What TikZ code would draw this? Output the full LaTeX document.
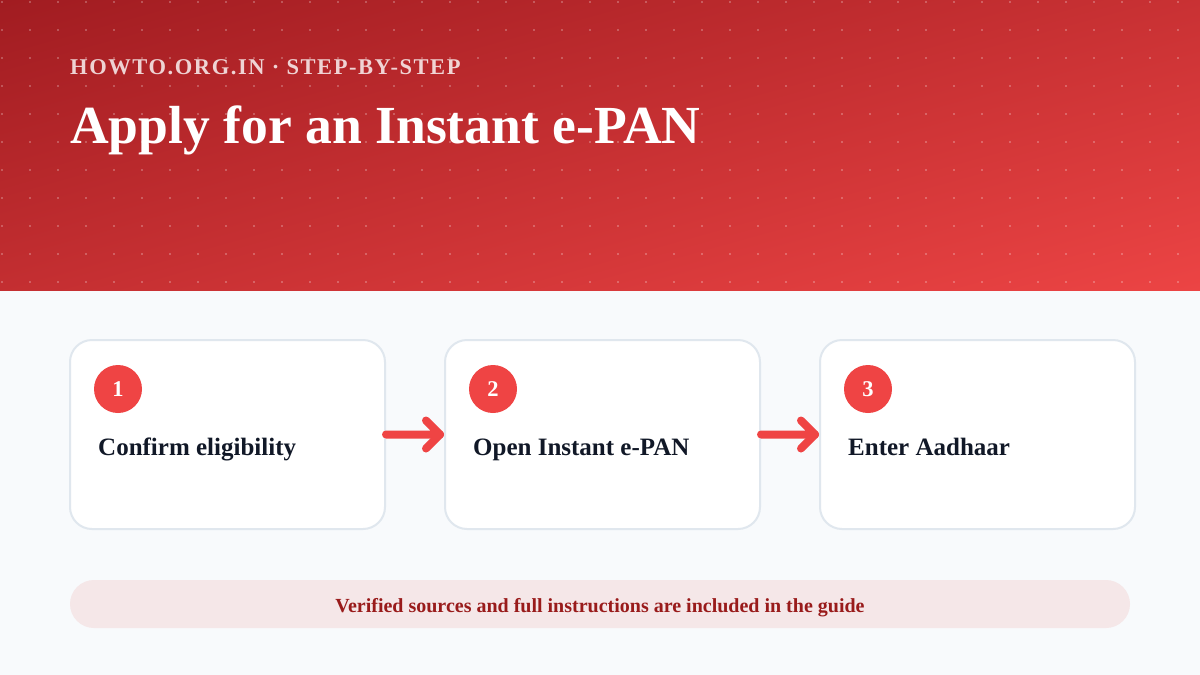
\documentclass[tikz,border=0pt]{standalone}
\usepackage{fontspec}
\setmainfont{Liberation Serif}
\newfontfamily\kickerfont[LetterSpace=7]{Liberation Serif}
\usepackage{tikz}
\usetikzlibrary{positioning, shadings}
\definecolor{hdrA}{HTML}{A11C21}
\definecolor{hdrB}{HTML}{EC4444}
\definecolor{page}{HTML}{F8FAFC}
\definecolor{cardline}{HTML}{E0E7EE}
\definecolor{accent}{HTML}{EF4444}
\definecolor{ink}{HTML}{111827}
\definecolor{pill}{HTML}{F5E7E8}
\definecolor{pilltext}{HTML}{991B1B}
\tikzset
{
    card/.style={draw=cardline, line width=2pt, fill=white, rounded corners=22pt, minimum width=315pt, minimum height=189pt, inner sep=0pt, outer sep=0pt}, % one step box
    badge/.style={circle, fill=accent, minimum size=48pt, inner sep=0pt, text=white, font=\fontsize{22.5}{26}\selectfont\bfseries}, % step number
    steptext/.style={anchor=base west, inner sep=0pt, text=ink, font=\fontsize{25}{30}\selectfont\bfseries},
    flow/.style={draw=accent, line width=8pt, line cap=round, line join=round}, % arrow between boxes
    node distance=60pt,
}

\begin{document}
\begin{tikzpicture}[x=1pt, y=-1pt]
    \useasboundingbox (0,0) rectangle (1200,675);
    \fill[page] (0,0) rectangle (1200,675);

    % Header
    \shade[upper left=hdrA, upper right=hdrB!53!hdrA, lower left=hdrB!46!hdrA, lower right=hdrB] (0,0) rectangle (1200,290);
    \foreach \i in {0,...,42}
        \foreach \j in {0,...,10}
            \fill[white, opacity=0.24] (1+28*\i,1+28*\j) rectangle ++(2,2);
    \node[anchor=base west, inner sep=0pt, text=white, text opacity=0.8, font=\kickerfont\fontsize{22.5}{26}\selectfont\bfseries] (kicker) at (70,74) {HOWTO.ORG.IN · STEP-BY-STEP};
    \node[anchor=base west, inner sep=0pt, text=white, font=\fontsize{53.6}{60}\selectfont\bfseries] (title) at (70,143) {Apply for an Instant e-PAN};

    % Steps
    \node[card] (c1) at (227.5,434.5) {};
    \node[card, right=of c1] (c2) {};
    \node[card, right=of c2] (c3) {};

    \node[badge] (n1) at ([xshift=48pt, yshift=-49pt]c1.north west) {1};
    \node[badge] (n2) at ([xshift=48pt, yshift=-49pt]c2.north west) {2};
    \node[badge] (n3) at ([xshift=48pt, yshift=-49pt]c3.north west) {3};

    \node[steptext] (t1) at ([xshift=28pt, yshift=-115pt]c1.north west) {Confirm eligibility};
    \node[steptext] (t2) at ([xshift=28pt, yshift=-115pt]c2.north west) {Open Instant e-PAN};
    \node[steptext] (t3) at ([xshift=28pt, yshift=-115pt]c3.north west) {Enter Aadhaar};

    % Arrows
    \draw[flow] ([xshift=1pt]c1.east) -- ([xshift=-5pt]c2.west) -- ++(-14,-14);
    \draw[flow] ([xshift=-5pt]c2.west) -- ++(-14,14);
    \draw[flow] ([xshift=1pt]c2.east) -- ([xshift=-5pt]c3.west) -- ++(-14,-14);
    \draw[flow] ([xshift=-5pt]c3.west) -- ++(-14,14);

    % Footer note
    \node[fill=pill, rounded corners=24pt, minimum width=1060pt, minimum height=48pt, inner sep=0pt] (foot) at (600,604) {};
    \node[anchor=base, inner sep=0pt, text=pilltext, font=\fontsize{20}{24}\selectfont\bfseries] (note) at ([yshift=-8.5pt]foot.center) {Verified sources and full instructions are included in the guide};
\end{tikzpicture}
\end{document}
